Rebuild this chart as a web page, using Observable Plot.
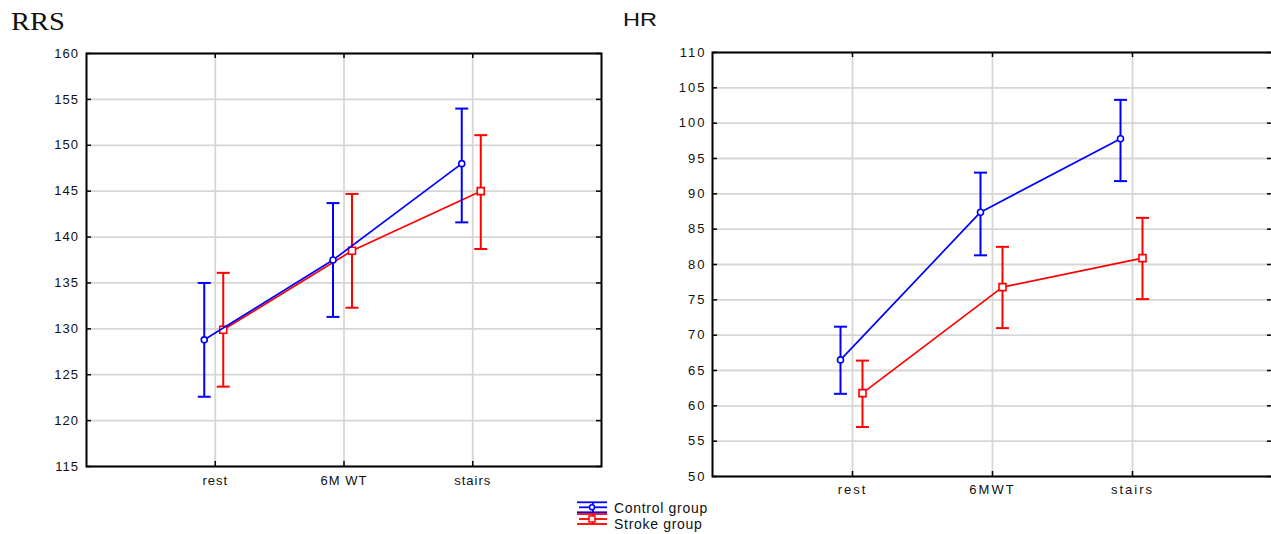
<!DOCTYPE html>
<html>
<head>
<meta charset="utf-8">
<script src="https://cdn.jsdelivr.net/npm/d3@7"></script>
<script src="https://cdn.jsdelivr.net/npm/@observablehq/plot@0.6"></script>
<style>
  html, body { margin: 0; padding: 0; background: #fff; overflow: hidden; }
  #page { position: relative; width: 1271px; height: 534px; overflow: hidden; background: #fff; }
  .panel { position: absolute; top: 0; width: 640px; }
  .panel svg { max-width: none !important; }
  #left { left: 0; }
  #right { left: 640px; }
  #left svg text { letter-spacing: 1px; }
  #right svg text { letter-spacing: 2px; }
  #overlay { position: absolute; left: 0; top: 0; pointer-events: none; }
</style>
</head>
<body>
<div id="page">
  <div id="left" class="panel"></div>
  <div id="right" class="panel"></div>
  <svg id="overlay" width="1271" height="534"></svg>
</div>
<script>
// ---------- data ----------
const rrsCategories = ["rest", "6M WT", "stairs"];
const hrCategories = ["rest", "6MWT", "stairs"];

const rrsControlMean = [128.8, 137.5, 148.0];
const rrsControlLow  = [122.6, 131.3, 141.6];
const rrsControlHigh = [135.0, 143.7, 154.0];
const rrsStrokeMean  = [129.9, 138.5, 145.0];
const rrsStrokeLow   = [123.7, 132.3, 138.7];
const rrsStrokeHigh  = [136.1, 144.7, 151.1];

const hrControlMean = [66.5, 87.4, 97.8];
const hrControlLow  = [61.7, 81.3, 91.8];
const hrControlHigh = [71.2, 93.0, 103.3];
const hrStrokeMean  = [61.8, 76.8, 80.9];
const hrStrokeLow   = [57.0, 71.0, 75.1];
const hrStrokeHigh  = [66.4, 82.5, 86.6];

const rrsTicks = [115, 120, 125, 130, 135, 140, 145, 150, 155, 160];
const hrTicks = [50, 55, 60, 65, 70, 75, 80, 85, 90, 95, 100, 105, 110];

const groupNames = ["Control group", "Stroke group"];
const BLUE = "#0000ff", RED = "#ff0000";

// ---------- helpers ----------
const capSymbol = {
  draw(context, size) {
    const w = Math.sqrt(size / Math.PI);
    context.moveTo(-w, 0);
    context.lineTo(w, 0);
  }
};

function rows(categories, mean, low, high) {
  return categories.map((c, i) => ({pos: i + 1, mean: mean[i], low: low[i], high: high[i]}));
}

function groupMarks(data, color, dx, symbol, r) {
  return [
    Plot.line(data, {x: "pos", y: "mean", dx, stroke: color, strokeWidth: 1.7}),
    Plot.ruleX(data, {x: "pos", y1: "low", y2: "high", dx, stroke: color, strokeWidth: 2}),
    Plot.dot(data, {x: "pos", y: "high", dx, symbol: capSymbol, r: 6.5, fill: "none", stroke: color, strokeWidth: 2}),
    Plot.dot(data, {x: "pos", y: "low", dx, symbol: capSymbol, r: 6.5, fill: "none", stroke: color, strokeWidth: 2}),
    Plot.dot(data, {x: "pos", y: "mean", dx, symbol, r, fill: "white", stroke: color, strokeWidth: 1.6})
  ];
}

function frameTicks(xTicks, yTicks, plotW, plotH) {
  const s = {stroke: "black", strokeWidth: 1.5};
  return [
    Plot.tickY(yTicks, {y: d => d, insetLeft: plotW - 5, ...s}),
    Plot.tickY(yTicks, {y: d => d, insetRight: plotW - 5, ...s}),
    Plot.tickX(xTicks, {x: d => d, insetTop: plotH - 5, ...s}),
    Plot.tickX(xTicks, {x: d => d, insetBottom: plotH - 5, ...s})
  ];
}

function panel(opts) {
  const {width, height, mt, mr, mb, ml, yDomain, yTicks, categories, control, stroke, dxC, dxS, padY, padX} = opts;
  const positions = categories.map((c, i) => i + 1);
  const plotW = width - ml - mr, plotH = height - mt - mb;
  return Plot.plot({
    width, height,
    marginTop: mt, marginRight: mr, marginBottom: mb, marginLeft: ml,
    style: {fontFamily: "'Liberation Sans', Arial, sans-serif", fontSize: "13px", color: "#111", background: "white", maxWidth: "none"},
    x: {type: "linear", domain: [0, categories.length + 1]},
    y: {domain: yDomain},
    marks: [
      Plot.gridY(yTicks, {stroke: "#d6d6d6", strokeOpacity: 1, strokeWidth: 1.8}),
      Plot.gridX(positions, {stroke: "#d6d6d6", strokeOpacity: 1, strokeWidth: 1.8}),
      Plot.axisY(yTicks, {tickSize: 0, tickPadding: padY, label: null, fill: "#111"}),
      Plot.axisX(positions, {tickSize: 0, tickPadding: padX, label: null, fill: "#111", tickFormat: d => categories[d - 1]}),
      ...frameTicks(positions, yTicks, plotW, plotH),
      Plot.frame({stroke: "black", strokeWidth: 2}),
      ...groupMarks(stroke, RED, dxS, "square", 3.95),
      ...groupMarks(control, BLUE, dxC, "circle", 3)
    ]
  });
}

// ---------- left: RRS ----------
document.getElementById("left").append(panel({
  width: 640, height: 500, mt: 53, mr: 39, mb: 34, ml: 86,
  yDomain: [115, 160], yTicks: rrsTicks, categories: rrsCategories,
  control: rows(rrsCategories, rrsControlMean, rrsControlLow, rrsControlHigh),
  stroke: rows(rrsCategories, rrsStrokeMean, rrsStrokeLow, rrsStrokeHigh),
  dxC: -11, dxS: 8, padY: 7.5, padX: 9
}));

// ---------- right: HR ----------
document.getElementById("right").append(panel({
  width: 640, height: 510, mt: 52, mr: 8, mb: 34, ml: 72,
  yDomain: [50, 110], yTicks: hrTicks, categories: hrCategories,
  control: rows(hrCategories, hrControlMean, hrControlLow, hrControlHigh),
  stroke: rows(hrCategories, hrStrokeMean, hrStrokeLow, hrStrokeHigh),
  dxC: -12, dxS: 10, padY: 6, padX: 8
}));

// ---------- titles and legend ----------
const ov = d3.select("#overlay");
ov.append("text").attr("transform", "translate(11,30) scale(1.14,1)")
  .attr("font-family", "'Liberation Serif', 'Times New Roman', serif").attr("font-size", 25).attr("fill", "#111").text("RRS");
ov.append("text").attr("transform", "translate(623,26) scale(1.24,1)")
  .attr("font-family", "'Liberation Sans', Arial, sans-serif").attr("font-size", 19).attr("fill", "#111").text("HR");

function legendSymbol(g, cy, color, shape) {
  g.append("line").attr("x1", 577).attr("x2", 607).attr("y1", cy - 5).attr("y2", cy - 5).attr("stroke", color).attr("stroke-width", 1.8);
  g.append("line").attr("x1", 579).attr("x2", 607).attr("y1", cy).attr("y2", cy).attr("stroke", color).attr("stroke-width", 1.8);
  g.append("line").attr("x1", 577).attr("x2", 607).attr("y1", cy + 5).attr("y2", cy + 5).attr("stroke", color).attr("stroke-width", 1.8);
  g.append("line").attr("x1", 593).attr("x2", 593).attr("y1", cy - 5).attr("y2", cy + 5).attr("stroke", color).attr("stroke-width", 1.8);
  if (shape === "circle") {
    g.append("circle").attr("cx", 592).attr("cy", cy).attr("r", 2.5).attr("fill", "white").attr("stroke", color).attr("stroke-width", 1.5);
  } else {
    g.append("rect").attr("x", 589).attr("y", cy - 3).attr("width", 6).attr("height", 6).attr("fill", "white").attr("stroke", color).attr("stroke-width", 1.5);
  }
}
const lg = ov.append("g");
legendSymbol(lg, 507.3, BLUE, "circle");
legendSymbol(lg, 519, RED, "square");
lg.append("text").attr("x", 614).attr("y", 513).attr("font-family", "'Liberation Sans', Arial, sans-serif")
  .attr("font-size", 14).attr("letter-spacing", "0.7px").attr("fill", "#111").text(groupNames[0]);
lg.append("text").attr("x", 614).attr("y", 528.5).attr("font-family", "'Liberation Sans', Arial, sans-serif")
  .attr("font-size", 14).attr("letter-spacing", "0.7px").attr("fill", "#111").text(groupNames[1]);
</script>
</body>
</html>
